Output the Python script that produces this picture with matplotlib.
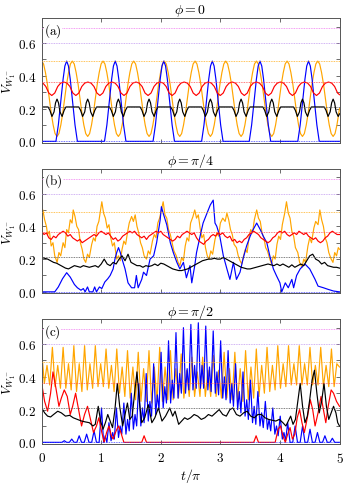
import numpy as np
import matplotlib
matplotlib.use("Agg")
import matplotlib.pyplot as plt
from matplotlib.ticker import MultipleLocator, FormatStrFormatter

plt.rcParams["mathtext.fontset"] = "cm"
plt.rcParams["font.family"] = "serif"
plt.rcParams["font.serif"] = ["DejaVu Serif"]

# ---------------- panel (a): phi = 0 ----------------
a_blue_t = [0, 0.24, 0.28, 0.32, 0.36, 0.39, 0.42, 0.45, 0.48, 0.52, 0.56, 0.60,
            1.055, 1.095, 1.135, 1.175, 1.205, 1.235, 1.265, 1.295, 1.335, 1.375, 1.415,
            1.87, 1.91, 1.95, 1.99, 2.02, 2.05, 2.08, 2.11, 2.15, 2.19, 2.23,
            2.685, 2.725, 2.765, 2.805, 2.835, 2.865, 2.895, 2.925, 2.965, 3.005, 3.045,
            3.485, 3.525, 3.565, 3.605, 3.635, 3.665, 3.695, 3.725, 3.765, 3.805, 3.845,
            4.30, 4.34, 4.38, 4.42, 4.45, 4.48, 4.51, 4.54, 4.58, 4.62, 4.66, 5.0]
a_blue_v = [0, 0, 0.10, 0.24, 0.38, 0.46, 0.49, 0.46, 0.38, 0.24, 0.10, 0,
            0, 0.10, 0.24, 0.38, 0.46, 0.49, 0.46, 0.38, 0.24, 0.10, 0,
            0, 0.10, 0.24, 0.38, 0.46, 0.49, 0.46, 0.38, 0.24, 0.10, 0,
            0, 0.10, 0.24, 0.38, 0.46, 0.49, 0.46, 0.38, 0.24, 0.10, 0,
            0, 0.10, 0.24, 0.38, 0.46, 0.49, 0.46, 0.38, 0.24, 0.10, 0,
            0, 0.10, 0.24, 0.38, 0.46, 0.49, 0.46, 0.38, 0.24, 0.10, 0, 0]

a_orange_t = [0, 0.032, 0.064, 0.097, 0.129, 0.161, 0.193, 0.225,
              0.258, 0.290, 0.322, 0.354, 0.386, 0.418, 0.451, 0.483,
              0.515, 0.547, 0.579, 0.612, 0.644, 0.676, 0.708, 0.740,
              0.773, 0.805, 0.837, 0.869, 0.901, 0.933, 0.966, 0.998,
              1.030, 1.062, 1.094, 1.127, 1.159, 1.191, 1.223, 1.255,
              1.288, 1.320, 1.352, 1.384, 1.416, 1.448, 1.481, 1.513,
              1.545, 1.577, 1.609, 1.642, 1.674, 1.706, 1.738, 1.770,
              1.803, 1.835, 1.867, 1.899, 1.931, 1.963, 1.996, 2.028,
              2.060, 2.092, 2.124, 2.157, 2.189, 2.221, 2.253, 2.285,
              2.318, 2.350, 2.382, 2.414, 2.446, 2.478, 2.511, 2.543,
              2.575, 2.607, 2.639, 2.672, 2.704, 2.736, 2.768, 2.800,
              2.833, 2.865, 2.897, 2.929, 2.961, 2.993, 3.026, 3.058,
              3.090, 3.122, 3.154, 3.187, 3.219, 3.251, 3.283, 3.315,
              3.348, 3.380, 3.412, 3.444, 3.476, 3.508, 3.541, 3.573,
              3.605, 3.637, 3.669, 3.702, 3.734, 3.766, 3.798, 3.830,
              3.863, 3.895, 3.927, 3.959, 3.991, 4.023, 4.056, 4.088,
              4.120, 4.152, 4.184, 4.217, 4.249, 4.281, 4.313, 4.345,
              4.378, 4.410, 4.442, 4.474, 4.506, 4.538, 4.571, 4.603,
              4.635, 4.667, 4.699, 4.732, 4.764, 4.796, 4.828, 4.860,
              4.893, 4.925, 4.957, 4.989, 5.0]
a_orange_v = [0.49, 0.4725, 0.42, 0.348, 0.26, 0.172, 0.10, 0.0475,
              0.03, 0.0475, 0.10, 0.172, 0.26, 0.348, 0.42, 0.4725,
              0.49, 0.4725, 0.42, 0.348, 0.26, 0.172, 0.10, 0.0475,
              0.03, 0.0475, 0.10, 0.172, 0.26, 0.348, 0.42, 0.4725,
              0.49, 0.4725, 0.42, 0.348, 0.26, 0.172, 0.10, 0.0475,
              0.03, 0.0475, 0.10, 0.172, 0.26, 0.348, 0.42, 0.4725,
              0.49, 0.4725, 0.42, 0.348, 0.26, 0.172, 0.10, 0.0475,
              0.03, 0.0475, 0.10, 0.172, 0.26, 0.348, 0.42, 0.4725,
              0.49, 0.4725, 0.42, 0.348, 0.26, 0.172, 0.10, 0.0475,
              0.03, 0.0475, 0.10, 0.172, 0.26, 0.348, 0.42, 0.4725,
              0.49, 0.4725, 0.42, 0.348, 0.26, 0.172, 0.10, 0.0475,
              0.03, 0.0475, 0.10, 0.172, 0.26, 0.348, 0.42, 0.4725,
              0.49, 0.4725, 0.42, 0.348, 0.26, 0.172, 0.10, 0.0475,
              0.03, 0.0475, 0.10, 0.172, 0.26, 0.348, 0.42, 0.4725,
              0.49, 0.4725, 0.42, 0.348, 0.26, 0.172, 0.10, 0.0475,
              0.03, 0.0475, 0.10, 0.172, 0.26, 0.348, 0.42, 0.4725,
              0.49, 0.4725, 0.42, 0.348, 0.26, 0.172, 0.10, 0.0475,
              0.03, 0.0475, 0.10, 0.172, 0.26, 0.348, 0.42, 0.4725,
              0.49, 0.4725, 0.42, 0.348, 0.26, 0.172, 0.10, 0.0475,
              0.03, 0.0475, 0.10, 0.172, 0.20]

a_red_t = [0, 0.02, 0.07, 0.12, 0.17, 0.22, 0.27, 0.32, 0.372,
           0.424, 0.474, 0.524, 0.574, 0.624, 0.674, 0.724, 0.776,
           0.828, 0.878, 0.928, 0.978, 1.028, 1.078, 1.128, 1.18,
           1.232, 1.282, 1.332, 1.382, 1.432, 1.482, 1.532, 1.584,
           1.636, 1.686, 1.736, 1.786, 1.836, 1.886, 1.936, 1.988,
           2.04, 2.09, 2.14, 2.19, 2.24, 2.29, 2.34, 2.392,
           2.444, 2.494, 2.544, 2.594, 2.644, 2.694, 2.744, 2.796,
           2.848, 2.898, 2.948, 2.998, 3.048, 3.098, 3.148, 3.2,
           3.252, 3.302, 3.352, 3.402, 3.452, 3.502, 3.552, 3.604,
           3.656, 3.706, 3.756, 3.806, 3.856, 3.906, 3.956, 4.008,
           4.06, 4.11, 4.16, 4.21, 4.26, 4.31, 4.36, 4.412,
           4.464, 4.514, 4.564, 4.614, 4.664, 4.714, 4.764, 4.816,
           4.868, 4.918, 4.968, 5.0]
a_red_v = [0.362,
           0.356, 0.335, 0.295, 0.28, 0.295, 0.335, 0.356, 0.362,
           0.356, 0.335, 0.295, 0.28, 0.295, 0.335, 0.356, 0.362,
           0.356, 0.335, 0.295, 0.28, 0.295, 0.335, 0.356, 0.362,
           0.356, 0.335, 0.295, 0.28, 0.295, 0.335, 0.356, 0.362,
           0.356, 0.335, 0.295, 0.28, 0.295, 0.335, 0.356, 0.362,
           0.356, 0.335, 0.295, 0.28, 0.295, 0.335, 0.356, 0.362,
           0.356, 0.335, 0.295, 0.28, 0.295, 0.335, 0.356, 0.362,
           0.356, 0.335, 0.295, 0.28, 0.295, 0.335, 0.356, 0.362,
           0.356, 0.335, 0.295, 0.28, 0.295, 0.335, 0.356, 0.362,
           0.356, 0.335, 0.295, 0.28, 0.295, 0.335, 0.356, 0.362,
           0.356, 0.335, 0.295, 0.28, 0.295, 0.335, 0.356, 0.362,
           0.356, 0.335, 0.295, 0.28, 0.295, 0.335, 0.356, 0.362,
           0.356, 0.335, 0.295, 0.285]

a_black_t = [0,
             0.108, 0.138, 0.173, 0.208, 0.233, 0.258, 0.283, 0.308, 0.343, 0.378, 0.408,
             0.623, 0.653, 0.688, 0.723, 0.748, 0.773, 0.798, 0.823, 0.858, 0.893, 0.923,
             1.138, 1.168, 1.203, 1.238, 1.263, 1.288, 1.313, 1.338, 1.373, 1.408, 1.438,
             1.653, 1.683, 1.718, 1.753, 1.778, 1.803, 1.828, 1.853, 1.888, 1.923, 1.953,
             2.168, 2.198, 2.233, 2.268, 2.293, 2.318, 2.343, 2.368, 2.403, 2.438, 2.468,
             2.683, 2.713, 2.748, 2.783, 2.808, 2.833, 2.858, 2.883, 2.918, 2.953, 2.983,
             3.198, 3.228, 3.263, 3.298, 3.323, 3.348, 3.373, 3.398, 3.433, 3.468, 3.498,
             3.713, 3.743, 3.778, 3.813, 3.838, 3.863, 3.888, 3.913, 3.948, 3.983, 4.013,
             4.228, 4.258, 4.293, 4.328, 4.353, 4.378, 4.403, 4.428, 4.463, 4.498, 4.528,
             4.743, 4.773, 4.808, 4.843, 4.868, 4.893, 4.918, 4.943, 4.978, 5.0]
a_black_v = [0.21,
             0.21, 0.19, 0.152, 0.18, 0.235, 0.258, 0.235, 0.18, 0.152, 0.19, 0.21,
             0.21, 0.19, 0.152, 0.18, 0.235, 0.258, 0.235, 0.18, 0.152, 0.19, 0.21,
             0.21, 0.19, 0.152, 0.18, 0.235, 0.258, 0.235, 0.18, 0.152, 0.19, 0.21,
             0.21, 0.19, 0.152, 0.18, 0.235, 0.258, 0.235, 0.18, 0.152, 0.19, 0.21,
             0.21, 0.19, 0.152, 0.18, 0.235, 0.258, 0.235, 0.18, 0.152, 0.19, 0.21,
             0.21, 0.19, 0.152, 0.18, 0.235, 0.258, 0.235, 0.18, 0.152, 0.19, 0.21,
             0.21, 0.19, 0.152, 0.18, 0.235, 0.258, 0.235, 0.18, 0.152, 0.19, 0.21,
             0.21, 0.19, 0.152, 0.18, 0.235, 0.258, 0.235, 0.18, 0.152, 0.19, 0.21,
             0.21, 0.19, 0.152, 0.18, 0.235, 0.258, 0.235, 0.18, 0.152, 0.19, 0.21,
             0.21, 0.19, 0.152, 0.18, 0.235, 0.258, 0.235, 0.18, 0.152, 0.168]

# ---------------- panel (b): phi = pi/4 ----------------
b_blue_t = [0, 0.22, 0.28, 0.35, 0.42, 0.48, 0.55, 0.60, 0.66, 0.70,
            0.73, 0.77, 0.80, 0.86, 0.89, 0.92, 0.97, 1.01, 1.06, 1.11,
            1.15, 1.20, 1.23, 1.26, 1.29, 1.32, 1.35, 1.40, 1.45, 1.51,
            1.56, 1.59, 1.62, 1.68, 1.71, 1.76, 1.79, 1.82, 1.88, 1.93,
            1.99, 2.01, 2.04, 2.10, 2.16, 2.21, 2.27, 2.32, 2.38, 2.43,
            2.49, 2.52, 2.57, 2.60, 2.66, 2.71, 2.77, 2.83, 2.88, 2.91,
            2.94, 2.99, 3.05, 3.11, 3.16, 3.22, 3.27, 3.33, 3.38, 3.44,
            3.50, 3.55, 3.61, 3.67, 3.72, 3.78, 3.83, 3.89, 3.94, 4.00,
            4.03, 4.09, 4.14, 4.20, 4.23, 4.28, 4.34, 4.42, 4.50, 4.59,
            4.64, 4.73, 4.81, 4.90, 5.0]
b_blue_v = [0, 0, 0.03, 0.08, 0.117, 0.09, 0.045, 0.025, 0.01, 0.02,
            0.0, 0.03, 0.0, 0.0, 0.03, 0.0, 0.03, 0.02, 0.06, 0.08,
            0.10, 0.14, 0.20, 0.24, 0.27, 0.24, 0.20, 0.14, 0.055, 0.025,
            0.025, 0.10, 0.025, 0.076, 0.12, 0.10, 0.15, 0.20, 0.22, 0.30,
            0.44, 0.52, 0.48, 0.41, 0.30, 0.24, 0.18, 0.14, 0.18, 0.086,
            0.16, 0.055, 0.16, 0.24, 0.34, 0.42, 0.475, 0.53, 0.56, 0.42,
            0.40, 0.34, 0.22, 0.14, 0.076, 0.18, 0.076, 0.12, 0.20, 0.28,
            0.34, 0.38, 0.42, 0.38, 0.34, 0.30, 0.22, 0.14, 0.10, 0.055,
            0.0, 0.055, 0.025, 0.076, 0.025, 0.10, 0.14, 0.17, 0.14, 0.076,
            0.035, 0.025, 0.015, 0.005, 0.0]

b_orange_t = [0.00, 0.02, 0.05, 0.08, 0.10, 0.13, 0.16, 0.19, 0.22, 0.26,
              0.29, 0.32, 0.36, 0.39, 0.42, 0.45, 0.48, 0.51, 0.53, 0.56,
              0.59, 0.62, 0.65, 0.68, 0.71, 0.74, 0.77, 0.80, 0.84, 0.87,
              0.90, 0.93, 0.96, 0.99, 1.01, 1.04, 1.07, 1.10, 1.13, 1.16,
              1.19, 1.22, 1.26, 1.29, 1.32, 1.35, 1.38, 1.41, 1.44, 1.47,
              1.51, 1.54, 1.57, 1.60, 1.63, 1.66, 1.69, 1.72, 1.76, 1.79,
              1.82, 1.86, 1.89, 1.92, 1.95, 1.98, 2.01, 2.04, 2.07, 2.10,
              2.13, 2.16, 2.19, 2.22, 2.26, 2.29, 2.32, 2.35, 2.38, 2.41,
              2.44, 2.47, 2.50, 2.54, 2.57, 2.60, 2.63, 2.66, 2.69, 2.72,
              2.75, 2.78, 2.81, 2.84, 2.87, 2.91, 2.94, 2.97, 3.00, 3.04,
              3.08, 3.11, 3.14, 3.17, 3.20, 3.23, 3.27, 3.30, 3.33, 3.36,
              3.39, 3.42, 3.45, 3.48, 3.51, 3.54, 3.57, 3.61, 3.64, 3.67,
              3.70, 3.73, 3.76, 3.79, 3.83, 3.86, 3.89, 3.92, 3.95, 3.98,
              4.01, 4.04, 4.08, 4.11, 4.14, 4.17, 4.20, 4.23, 4.26, 4.30,
              4.33, 4.37, 4.40, 4.43, 4.47, 4.50, 4.53, 4.57, 4.60, 4.64,
              4.67, 4.70, 4.73, 4.76, 4.79, 4.82, 4.86, 4.89, 4.92, 4.95,
              4.98, 5.0]
b_orange_v = [0.47, 0.50, 0.44, 0.40, 0.35, 0.37, 0.28, 0.30, 0.22, 0.18,
              0.24, 0.22, 0.30, 0.27, 0.38, 0.36, 0.44, 0.42, 0.50, 0.46,
              0.40, 0.38, 0.30, 0.26, 0.20, 0.18, 0.23, 0.21, 0.29, 0.33,
              0.31, 0.40, 0.43, 0.50, 0.55, 0.48, 0.45, 0.39, 0.41, 0.33,
              0.28, 0.30, 0.20, 0.22, 0.19, 0.26, 0.31, 0.29, 0.36, 0.42,
              0.46, 0.43, 0.47, 0.40, 0.36, 0.30, 0.27, 0.22, 0.20, 0.25,
              0.23, 0.31, 0.35, 0.33, 0.42, 0.45, 0.50, 0.55, 0.47, 0.45,
              0.38, 0.35, 0.30, 0.25, 0.22, 0.18, 0.16, 0.21, 0.19, 0.28,
              0.33, 0.31, 0.42, 0.46, 0.50, 0.45, 0.47, 0.39, 0.33, 0.35,
              0.27, 0.22, 0.20, 0.25, 0.23, 0.32, 0.36, 0.34, 0.42, 0.45,
              0.43, 0.48, 0.44, 0.38, 0.35, 0.29, 0.27, 0.22, 0.19, 0.17,
              0.22, 0.26, 0.24, 0.33, 0.38, 0.36, 0.44, 0.50, 0.45, 0.43,
              0.36, 0.33, 0.27, 0.25, 0.20, 0.17, 0.22, 0.20, 0.29, 0.34,
              0.32, 0.41, 0.48, 0.55, 0.48, 0.45, 0.37, 0.34, 0.27, 0.24,
              0.18, 0.15, 0.20, 0.18, 0.28, 0.33, 0.30, 0.39, 0.43, 0.41,
              0.50, 0.44, 0.40, 0.33, 0.30, 0.24, 0.20, 0.18, 0.24, 0.22,
              0.27, 0.26]

# red and black of panel (b), sampled on an even time grid
b_red_v = [0.37, 0.35, 0.36, 0.33, 0.32, 0.34, 0.33, 0.35, 0.36, 0.37,
           0.36, 0.34, 0.35, 0.33, 0.32, 0.31, 0.32, 0.30, 0.31, 0.32,
           0.33, 0.34, 0.35, 0.34, 0.36, 0.37, 0.36, 0.35, 0.36, 0.34,
           0.32, 0.33, 0.31, 0.32, 0.34, 0.35, 0.36, 0.37, 0.36, 0.37,
           0.35, 0.34, 0.33, 0.34, 0.32, 0.34, 0.35, 0.36, 0.37, 0.36,
           0.37, 0.35, 0.34, 0.33, 0.32, 0.31, 0.32, 0.34, 0.33, 0.35,
           0.36, 0.37, 0.36, 0.35, 0.36, 0.33, 0.31, 0.30, 0.29, 0.31,
           0.32, 0.34, 0.35, 0.34, 0.36, 0.35, 0.36, 0.34, 0.33, 0.34,
           0.31, 0.32, 0.30, 0.31, 0.30, 0.32, 0.33, 0.35, 0.36, 0.37,
           0.36, 0.35, 0.33, 0.32, 0.31, 0.30, 0.31, 0.33, 0.34, 0.36,
           0.37, 0.36, 0.37, 0.35, 0.34, 0.35, 0.36, 0.35, 0.37, 0.36,
           0.35, 0.36, 0.34, 0.33, 0.32, 0.33, 0.31, 0.30, 0.31, 0.33,
           0.34, 0.36, 0.37, 0.36, 0.35, 0.35]
b_black_v = [0.21, 0.205, 0.20, 0.19, 0.18, 0.175, 0.165, 0.155, 0.145, 0.14,
             0.15, 0.16, 0.155, 0.15, 0.16, 0.155, 0.15, 0.155, 0.16, 0.15,
             0.17, 0.20, 0.17, 0.16, 0.18, 0.17, 0.20, 0.22, 0.19, 0.23,
             0.18, 0.17, 0.16, 0.16, 0.15, 0.16, 0.155, 0.16, 0.17, 0.16,
             0.175, 0.17, 0.16, 0.15, 0.14, 0.135, 0.13, 0.13, 0.135, 0.14,
             0.15, 0.16, 0.17, 0.18, 0.19, 0.195, 0.20, 0.20, 0.205, 0.20,
             0.20, 0.21, 0.20, 0.19, 0.18, 0.17, 0.16, 0.15, 0.145, 0.14,
             0.14, 0.145, 0.15, 0.155, 0.16, 0.165, 0.17, 0.165, 0.16, 0.17,
             0.16, 0.17, 0.16, 0.15, 0.165, 0.15, 0.16, 0.17, 0.16, 0.19,
             0.22, 0.23, 0.20, 0.19, 0.17, 0.18, 0.16, 0.155, 0.15, 0.15,
             0.145]

# ---------------- panel (c): phi = pi/2 ----------------
# orange alternates tall peak / trough / short peak / trough on an even grid
c_orange_v = [0.56, 0.36, 0.47, 0.35, 0.58, 0.34, 0.47, 0.33,
              0.58, 0.33, 0.48, 0.32, 0.59, 0.31, 0.48, 0.31,
              0.59, 0.32, 0.48, 0.33, 0.59, 0.34, 0.48, 0.34,
              0.57, 0.33, 0.47, 0.31, 0.57, 0.30, 0.46, 0.28,
              0.56, 0.27, 0.46, 0.26, 0.55, 0.25, 0.45, 0.25,
              0.56, 0.24, 0.46, 0.25, 0.58, 0.25, 0.46, 0.26,
              0.56, 0.26, 0.45, 0.27, 0.54, 0.27, 0.44, 0.28,
              0.52, 0.28, 0.43, 0.28, 0.52, 0.28, 0.44, 0.28,
              0.53, 0.28, 0.44, 0.27, 0.55, 0.27, 0.45, 0.26,
              0.55, 0.25, 0.45, 0.25, 0.56, 0.26, 0.46, 0.27,
              0.57, 0.28, 0.47, 0.30, 0.58, 0.31, 0.47, 0.32,
              0.59, 0.33, 0.48, 0.34, 0.59, 0.35, 0.48, 0.35,
              0.59, 0.35, 0.48, 0.35, 0.58, 0.35, 0.47, 0.35,
              0.58, 0.34, 0.47, 0.34, 0.57, 0.34, 0.48, 0.46]

c_blue_t = [0, 0.34, 0.38, 0.42, 0.465, 0.505, 0.545, 0.59, 0.63, 0.67, 0.715, 0.755,
            0.795, 0.84, 0.88, 0.92, 0.965, 1.005,
            1.04, 1.0675, 1.095, 1.13, 1.165, 1.1925, 1.22, 1.255,
            1.29, 1.3175, 1.345, 1.38, 1.415, 1.4425, 1.47, 1.505,
            1.54, 1.5675, 1.595, 1.63, 1.665, 1.6925, 1.72, 1.755,
            1.79, 1.8175, 1.845, 1.88, 1.915, 1.9425, 1.97, 2.005,
            2.04, 2.0675, 2.095, 2.13, 2.165, 2.1925, 2.22, 2.255,
            2.29, 2.3175, 2.345, 2.38, 2.415, 2.4425, 2.47, 2.505,
            2.54, 2.5675, 2.595, 2.63, 2.665, 2.6925, 2.72, 2.755,
            2.79, 2.8175, 2.845, 2.88, 2.915, 2.9425, 2.97, 3.005,
            3.04, 3.0675, 3.095, 3.13, 3.165, 3.1925, 3.22, 3.255,
            3.29, 3.3175, 3.345, 3.38, 3.415, 3.4425, 3.47, 3.505,
            3.54, 3.5675, 3.595, 3.63, 3.665, 3.6925, 3.72, 3.755,
            3.79, 3.8175, 3.845, 3.88, 3.915, 3.9425, 3.97, 4.005,
            4.04, 4.0675, 4.095, 4.13,
            4.17, 4.215, 4.255,
            4.295, 4.34, 4.38, 4.42, 4.465, 4.505, 4.545, 4.59, 4.63, 4.67,
            4.715, 4.755, 4.795, 4.84, 4.88, 4.92, 5.0]
c_blue_v = [0, 0, 0.01, 0, 0, 0.02, 0, 0, 0.04, 0, 0, 0.05,
            0, 0, 0.07, 0, 0, 0.21,
            0.0, 0.04, 0.0, 0.12, 0.01, 0.06, 0.02, 0.21,
            0.03, 0.10, 0.05, 0.24, 0.05, 0.14, 0.07, 0.30,
            0.08, 0.17, 0.10, 0.36, 0.10, 0.21, 0.12, 0.42,
            0.13, 0.25, 0.16, 0.48, 0.17, 0.29, 0.20, 0.55,
            0.21, 0.34, 0.24, 0.62, 0.24, 0.38, 0.27, 0.67,
            0.27, 0.42, 0.30, 0.70, 0.30, 0.45, 0.32, 0.72,
            0.32, 0.47, 0.33, 0.73, 0.33, 0.47, 0.33, 0.71,
            0.32, 0.46, 0.31, 0.68, 0.30, 0.43, 0.29, 0.62,
            0.27, 0.40, 0.26, 0.56, 0.24, 0.36, 0.22, 0.48,
            0.20, 0.31, 0.18, 0.43, 0.16, 0.26, 0.14, 0.38,
            0.12, 0.22, 0.11, 0.31, 0.10, 0.18, 0.09, 0.25,
            0.08, 0.14, 0.07, 0.21, 0.05, 0.10, 0.04, 0.16,
            0.02, 0.06, 0.01, 0.12,
            0.0, 0.0, 0.10,
            0, 0, 0.10, 0, 0, 0.08, 0, 0, 0.06, 0,
            0, 0.04, 0, 0, 0.025, 0, 0]

c_red_t = [0, 0.05, 0.10, 0.15, 0.19, 0.24, 0.29, 0.33, 0.38, 0.43,
           0.48, 0.52, 0.57, 0.62, 0.67, 0.72, 0.77, 0.82, 0.87, 0.92,
           0.96, 1.01, 1.05, 1.09, 1.13, 1.17, 1.20, 1.25, 1.29, 1.33,
           1.38, 1.68, 1.72, 1.76, 3.56, 3.60, 3.64, 3.92, 3.97, 4.01,
           4.05, 4.09, 4.13, 4.17, 4.21, 4.25, 4.29, 4.33, 4.37, 4.41,
           4.46, 4.51, 4.55, 4.59, 4.64, 4.69, 4.73, 4.77, 4.81, 4.86,
           4.90, 4.95, 5.0]
c_red_v = [0.36, 0.25, 0.19, 0.30, 0.43, 0.33, 0.22, 0.27, 0.32, 0.28,
           0.17, 0.22, 0.30, 0.20, 0.10, 0.17, 0.22, 0.14, 0.06, 0.10,
           0.15, 0.06, 0.0, 0.06, 0.10, 0.04, 0.02, 0.07, 0.10, 0.06,
           0.0, 0.0, 0.04, 0.0, 0.0, 0.04, 0.0, 0.0, 0.08, 0.10,
           0.04, 0.0, 0.05, 0.09, 0.02, 0.05, 0.15, 0.20, 0.12, 0.06,
           0.15, 0.26, 0.20, 0.10, 0.18, 0.28, 0.20, 0.12, 0.22, 0.32,
           0.30, 0.25, 0.22]

c_black_t = [0, 0.05, 0.10, 0.15, 0.20, 0.27, 0.33, 0.40, 0.47, 0.53,
             0.60, 0.67, 0.73, 0.80, 0.86, 0.90, 0.95, 0.99, 1.03, 1.07,
             1.11, 1.15, 1.19, 1.23, 1.27, 1.31, 1.36, 1.40, 1.44, 1.48,
             1.52, 1.56, 1.60, 1.64, 1.68, 1.73, 1.79, 1.85, 1.90, 1.96,
             2.02, 2.08, 2.15, 2.20, 2.24, 2.30, 2.35, 2.40, 2.45, 2.50,
             2.56, 2.62, 2.68, 2.74, 2.80, 2.86, 2.92, 2.98, 3.04, 3.10,
             3.16, 3.21, 3.27, 3.33, 3.39, 3.45, 3.51, 3.57, 3.63, 3.69,
             3.75, 3.81, 3.87, 3.93, 3.99, 4.05, 4.10, 4.14, 4.18, 4.22,
             4.26, 4.30, 4.34, 4.38, 4.42, 4.46, 4.50, 4.54, 4.58, 4.62,
             4.66, 4.70, 4.74, 4.78, 4.82, 4.86, 4.90, 4.94, 4.97, 5.0]
c_black_v = [0.21, 0.18, 0.16, 0.155, 0.17, 0.19, 0.18, 0.16, 0.165, 0.15,
             0.14, 0.13, 0.125, 0.12, 0.10, 0.11, 0.22, 0.13, 0.08, 0.12,
             0.17, 0.13, 0.09, 0.20, 0.36, 0.22, 0.10, 0.17, 0.24, 0.14,
             0.16, 0.30, 0.43, 0.25, 0.12, 0.15, 0.23, 0.12, 0.15, 0.21,
             0.13, 0.16, 0.21, 0.16, 0.19, 0.11, 0.13, 0.15, 0.14, 0.15,
             0.17, 0.16, 0.14, 0.15, 0.17, 0.16, 0.18, 0.20, 0.17, 0.16,
             0.20, 0.21, 0.17, 0.16, 0.18, 0.19, 0.16, 0.15, 0.17, 0.17,
             0.15, 0.14, 0.135, 0.13, 0.14, 0.12, 0.10, 0.13, 0.16, 0.11,
             0.14, 0.25, 0.36, 0.22, 0.12, 0.16, 0.26, 0.38, 0.44, 0.30,
             0.18, 0.25, 0.36, 0.22, 0.14, 0.18, 0.22, 0.18, 0.12, 0.10]

# dotted reference levels (same in all panels)
ref_levels = [0.69, 0.60, 0.49, 0.365, 0.21, 0.0]
ref_colors = ["#f07cf0", "#c29af0", "#ffb020", "#ff5050", "#555555", "#4040ff"]

titles = [r"$\phi = 0$", r"$\phi = \pi/4$", r"$\phi = \pi/2$"]
tags = [r"$(\mathrm{a})$", r"$(\mathrm{b})$", r"$(\mathrm{c})$"]

b_grid_red = np.linspace(0, 5, len(b_red_v))
b_grid_black = np.linspace(0, 5, len(b_black_v))
c_grid_orange = np.linspace(0, 5, len(c_orange_v))

panels = [
    [(a_orange_t, a_orange_v), (a_blue_t, a_blue_v), (a_red_t, a_red_v), (a_black_t, a_black_v)],
    [(b_orange_t, b_orange_v), (b_blue_t, b_blue_v), (b_grid_red, b_red_v), (b_grid_black, b_black_v)],
    [(c_grid_orange, c_orange_v), (c_blue_t, c_blue_v), (c_red_t, c_red_v), (c_black_t, c_black_v)],
]
line_colors = ["#ffa500", "#0000ff", "#ff0000", "#000000"]

fig = plt.figure(figsize=(3.5, 4.85), dpi=100)
bottoms = [0.7031, 0.3928, 0.0825]

for i in range(3):
    ax = fig.add_axes([0.119, bottoms[i], 0.851, 0.2577])
    for (t, v), col in zip(panels[i], line_colors):
        ax.plot(t, v, color=col, lw=0.85, zorder=2)
    for lev, col in zip(ref_levels, ref_colors):
        ax.axhline(lev, color=col, lw=0.6, ls=(0, (1, 1)), zorder=3)

    ax.set_xlim(0, 5)
    ax.set_ylim(-0.01, 0.753)
    ax.xaxis.set_major_locator(MultipleLocator(1))
    ax.yaxis.set_major_locator(MultipleLocator(0.2))
    ax.yaxis.set_minor_locator(MultipleLocator(0.1))
    ax.xaxis.set_major_formatter(FormatStrFormatter(r"$%d$"))
    ax.yaxis.set_major_formatter(FormatStrFormatter(r"$%.1f$"))
    ax.tick_params(which="both", direction="in", top=True, right=True,
                   length=3, width=0.6, color="#555555", labelsize=9.5)
    ax.tick_params(axis="x", which="minor", top=False, bottom=False)
    ax.tick_params(axis="y", pad=4)
    ax.tick_params(axis="x", pad=5)
    for s in ax.spines.values():
        s.set_color("#555555")
        s.set_linewidth(0.7)

    ax.set_title(titles[i], fontsize=10, pad=3)
    ax.set_ylabel(r"$V_{W_1^-}$", fontsize=9.5)
    ax.yaxis.set_label_coords(-0.079, 0.5)
    ax.text(0.008, 0.975, tags[i], transform=ax.transAxes, ha="left", va="top",
            fontsize=9.5, zorder=5,
            bbox=dict(facecolor="white", edgecolor="none", pad=0.3))
    if i < 2:
        ax.tick_params(labelbottom=False)
    else:
        ax.set_xlabel(r"$t/\pi$", fontsize=10, labelpad=1)

fig.savefig("out.png", dpi=100)
